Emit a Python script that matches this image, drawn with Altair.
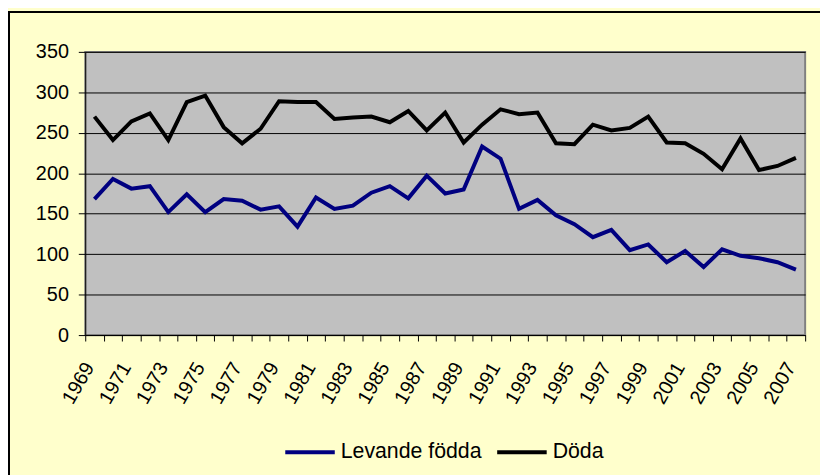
import altair as alt
import pandas as pd

years = list(range(1969, 2008))
levande = [168, 193, 181, 184, 152, 174, 152, 168, 166, 155,
           159, 134, 170, 156, 160, 176, 184, 169, 197, 175,
           180, 233, 218, 156, 167, 148, 137, 121, 130, 105,
           112, 90, 104, 84, 106, 98, 95, 90, 81]
doda = [270, 241, 264, 274, 241, 288, 296, 257, 237, 255,
        289, 288, 288, 267, 269, 270, 263, 277, 253, 275,
        238, 260, 279, 273, 275, 237, 236, 260, 253, 256,
        270, 238, 237, 224, 205, 243, 204, 209, 219]
series_names = ["Levande födda", "Döda"]
series_colors = ["#000080", "#000000"]
y_ticks = [0, 50, 100, 150, 200, 250, 300, 350]

rows = []
for yr, a, b in zip(years, levande, doda):
    rows.append({"year": yr, "serie": series_names[0], "value": a})
    rows.append({"year": yr, "serie": series_names[1], "value": b})
df = pd.DataFrame(rows)

boundaries = [yr - 0.5 for yr in years] + [years[-1] + 0.5]
FONT = "Liberation Sans"

lines = alt.Chart(df).mark_line(strokeWidth=4, strokeJoin="miter").encode(
    x=alt.X("year:Q",
            scale=alt.Scale(domain=[boundaries[0], boundaries[-1]], nice=False, zero=False),
            axis=alt.Axis(values=boundaries, title=None, grid=False,
                          labelExpr="(datum.value + 0.5) % 2 == 1 ? format(datum.value + 0.5, 'd') : ''",
                          labelAngle=-60, labelAlign="right", labelBaseline="middle",
                          labelOffset=4, labelPadding=23, tickSize=6,
                          labelFontSize=20, labelFont=FONT, labelColor="black",
                          domainColor="black", tickColor="black", labelOverlap=False)),
    y=alt.Y("value:Q",
            scale=alt.Scale(domain=[0, 350], nice=False),
            axis=alt.Axis(values=y_ticks, title=None, grid=True, gridColor="black",
                          gridWidth=1, tickSize=7, labelPadding=10,
                          labelFontSize=20, labelFont=FONT, labelColor="black",
                          domainColor="black", tickColor="black")),
    color=alt.Color("serie:N",
                    scale=alt.Scale(domain=series_names, range=series_colors),
                    legend=alt.Legend(title=None, orient="none", direction="horizontal",
                                      legendX=200, legendY=377,
                                      symbolType="stroke", symbolSize=2500,
                                      symbolStrokeWidth=4, labelFontSize=21.5,
                                      labelFont=FONT, labelColor="black",
                                      labelOffset=4, columnPadding=7)),
    order=alt.Order("year:Q"),
)

frame_left = alt.Chart(df).mark_rule(color="black", strokeWidth=1.5).encode(
    x=alt.value(-77.5), y=alt.value(-40), y2=alt.value(430))
frame_top = alt.Chart(df).mark_rule(color="black", strokeWidth=1.5).encode(
    x=alt.value(-78), x2=alt.value(750), y=alt.value(-40))

chart = alt.layer(lines, frame_left, frame_top).properties(
    width=727, height=286,
    autosize=alt.AutoSizeParams(type="none"),
    padding={"left": 78, "top": 42, "right": 15, "bottom": 139},
    background="#FFFFCC",
).configure_view(fill="#C0C0C0", stroke="#808080", strokeWidth=2)

chart.save("out.html", embed_options={"renderer": "svg", "actions": False})
